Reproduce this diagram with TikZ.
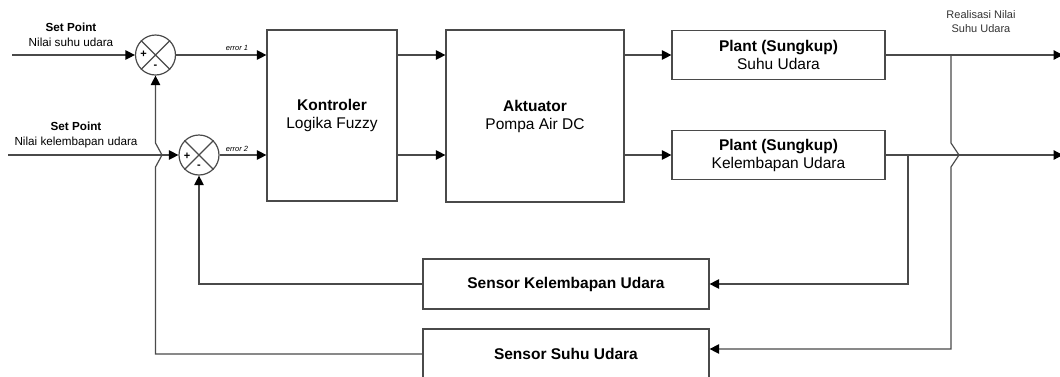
\documentclass[tikz,border=0pt]{standalone}
\usepackage{fontspec}
\setmainfont{Liberation Sans}
\usetikzlibrary{arrows.meta}
\definecolor{lc}{HTML}{4A4A4A}
\begin{document}
\begin{tikzpicture}[x=1pt,y=-1pt,
  lw/.style={line width=1.2pt},
  blk/.style={draw=lc, lw, align=center, inner sep=0pt, font=\fontsize{15.5}{18}\selectfont},
  sumj/.style={circle, draw=lc, lw, minimum size=40pt, inner sep=0pt},
  conn/.style={draw=lc, lw},
  arr/.style={conn, -{Triangle[length=9.5pt,width=9.5pt,color=black]}},
  lbl/.style={font=\fontsize{11.7}{15}\selectfont, align=center, inner sep=0pt},
  errl/.style={font=\itshape\fontsize{7.5}{9}\selectfont, inner sep=0pt},
  sgn/.style={font=\bfseries\fontsize{11}{11}\selectfont, inner sep=0pt}]
\useasboundingbox (0,0) rectangle (1060,376);

% summing junctions
\node[sumj] (s1) at (155.5,55) {};
\node[sumj] (s2) at (199,155) {};
\draw[conn] (s1.north west) -- (s1.south east) (s1.north east) -- (s1.south west);
\draw[conn] (s2.north west) -- (s2.south east) (s2.north east) -- (s2.south west);
\node[sgn] (s1p) at (143.5,54) {+};
\node[sgn] (s1m) at (155.5,67) {-};
\node[sgn] (s2p) at (187,156) {+};
\node[sgn] (s2m) at (199,167) {-};

% blocks
\node[blk, minimum width=130pt, minimum height=171pt] (k) at (332,115.5) {\textbf{Kontroler}\\Logika Fuzzy};
\node[blk, minimum width=178pt, minimum height=172pt] (a) at (535,116) {\textbf{Aktuator}\\Pompa Air DC};
\node[blk, minimum width=213pt, minimum height=49pt] (p1) at (778.5,55) {\textbf{Plant (Sungkup)}\\Suhu Udara};
\node[blk, minimum width=213pt, minimum height=49pt] (p2) at (778.5,155) {\textbf{Plant (Sungkup)}\\Kelembapan Udara};
\node[blk, minimum width=286pt, minimum height=50pt] (sk) at (566,284) {\textbf{Sensor Kelembapan Udara}};
\node[blk, minimum width=286pt, minimum height=50pt] (ss) at (566,354) {\textbf{Sensor Suhu Udara}};

% labels
\node[lbl] (sp1) at (71,34.5) {\textbf{Set Point}\\Nilai suhu udara};
\node[lbl] (sp2) at (76,135) {\textbf{Set Point}\\Nilai kelembapan udara};
\node[errl] (e1) at (237,48) {error 1};
\node[errl] (e2) at (237,149) {error 2};
\node[font=\fontsize{11}{14}\selectfont, align=center, inner sep=0pt, text=black!80] (real) at (981,22) {Realisasi Nilai\\Suhu Udara};

% coordinates
\coordinate (in1) at (12,55);
\coordinate (in2) at (8,155);
\coordinate (o1) at (1063,55);
\coordinate (o2) at (1063,155);
\coordinate (hb) at (908,155);
\coordinate (hc) at (908,284);
\coordinate (tb) at (951,55);
\coordinate (tc) at (951,349);

% forward path
\draw[arr] (in1) -- (s1.west);
\draw[arr] (in2) -- (s2.west);
\draw[arr] (s1.east) -- (k.west |- s1);
\draw[arr] (s2.east) -- (k.west |- s2);
\draw[arr] (k.east |- s1) -- (a.west |- s1);
\draw[arr] (k.east |- s2) -- (a.west |- s2);
\draw[arr] (a.east |- p1) -- (p1.west);
\draw[arr] (a.east |- p2) -- (p2.west);
\draw[arr] (p1.east) -- (o1);
\draw[arr] (p2.east) -- (o2);

% feedback
\draw[arr] (hb) -- (hc) -- (sk.east);
\draw[arr] (tb) -- (951,143) -- (959,155) -- (951,167) -- (tc) -- (ss.east |- tc);
\draw[arr] (sk.west) -| (s2.south);
\draw[arr] (ss.west) -- (155.5,354) -- (155.5,167) -- (162,155) -- (155.5,143) -- (s1.south);
\end{tikzpicture}
\end{document}
